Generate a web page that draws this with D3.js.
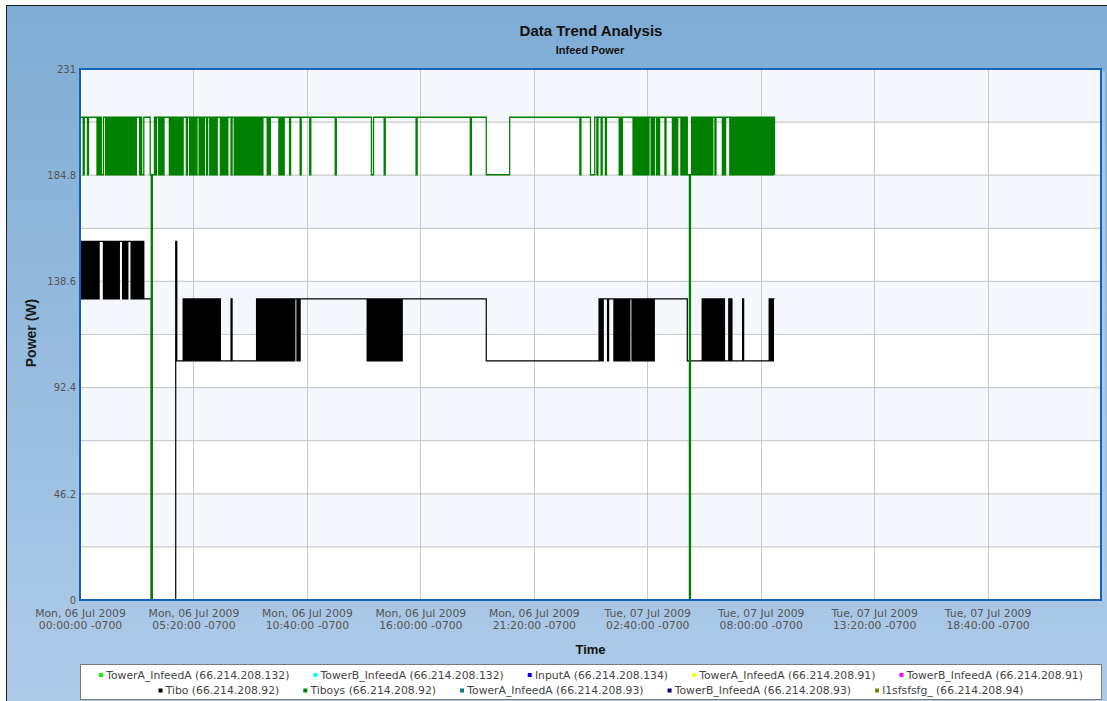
<!DOCTYPE html>
<html>
<head>
<meta charset="utf-8">
<script src="https://cdn.jsdelivr.net/npm/d3@7"></script>
<style>
  body { margin: 0; background: #ffffff; }
  svg { display: block; }
</style>
</head>
<body>
<svg id="chart" width="1107" height="701"></svg>
<script>
// ---- data -------------------------------------------------------------

// Readings are logged every SAMPLE_MINUTES from seriesStart; each entry is
// [sampleIndex, codes] and each code is one reading. A value holds until
// the next logged reading (step chart).
const SAMPLE_MINUTES = 3;
const seriesStart = "2009-07-06T00:00:00-07:00";
const rangeEnd = "2009-07-08T00:00:00-07:00";

// Tibo (66.214.208.92), watts per code
const tiboLevels = { a: 156, b: 131, c: 104, Z: 0 };
const tiboReadings = [
  [0, "ababababab" + "abababab" + "a"],
  [22, "babababababababa"],
  [40, "bababa"],
  [48, "babababababab"],
  [67, "Z"],
  [90, "ac"],
  [97, "bcbcbcbcbc" + "bcbcbcbcbc" + "bcbcbcbcbc" + "bcbcbc"],
  [142, "bc"],
  [166, "bcbcbcbcbc" + "bcbcbcbcbc" + "bcbcbcbcbc" + "bcbcbc" + "bbcbcb"],
  [270, "cbcbcbcbcb" + "cbcbcbcbcb" + "cbcbcbcbcb" + "cbcb"],
  [382, "c"],
  [488, "bcbcb"],
  [496, "cb"],
  [502, "cbcbcbcbcbcbcb"],
  [516, "cbbcb"],
  [521, "cbcbcbcbcb" + "cbcbcbcbcb"],
  [571, "c"],
  [585, "bcbcbcbcbc" + "bcbcbcbcbc" + "bc"],
  [610, "bcbc"],
  [623, "bc"],
  [648, "bcbcbb"]
];

// Tiboys (66.214.208.92), watts per code
const tiboysLevels = { H: 210, L: 185, Z: 0 };
const tiboysReadings = [
  [0, "HHHLHHHLH"],
  [16, "LHLHLLH"],
  [24, "LHLHLHLHLH" + "LHLHLHLHLH" + "LHLHLHLHLH"],
  [56, "LHLLH"],
  [66, "LZLLHLHHLHLHLH"],
  [84, "LHLHLHLHLHLHLH"],
  [100, "LHHLHLHLHLH"],
  [112, "LHLHLHHLHH"],
  [122, "LHLHLHLH"],
  [132, "LHLHLHLH"],
  [142, "LHHLH" + "LHLHLHLHLH" + "LHLHLHLHLH" + "LHLHLH" + "H"],
  [176, "LHLH"],
  [187, "LHLHLH"],
  [197, "LH"],
  [207, "LH"],
  [216, "LH"],
  [240, "LH"],
  [274, "LLH"],
  [286, "LH"],
  [316, "LH"],
  [367, "LH"],
  [382, "L"],
  [404, "H"],
  [470, "LH"],
  [480, "LLLLHHLHHHLHHHLH"],
  [507, "LHLH"],
  [520, "LHLHLHLHLHLHLHLH" + "HLHLH"],
  [542, "LHLH"],
  [550, "LH"],
  [557, "LHLHLH"],
  [565, "LHLHLHL" + "LZL" + "HLHLHLHLHL" + "HLHLHLHLHL" + "H" + "HLH"],
  [604, "LHLH"],
  [611, "LHLHLHLHLH" + "LHLHLHLHLH" + "LHLHLHLHLH" + "LHLHLHLHLH" + "LHL"]
];

// axis ticks
const xTickTimes = [
  "2009-07-06T00:00:00-07:00",
  "2009-07-06T05:20:00-07:00",
  "2009-07-06T10:40:00-07:00",
  "2009-07-06T16:00:00-07:00",
  "2009-07-06T21:20:00-07:00",
  "2009-07-07T02:40:00-07:00",
  "2009-07-07T08:00:00-07:00",
  "2009-07-07T13:20:00-07:00",
  "2009-07-07T18:40:00-07:00"
];
const yTicks = [0, 46.2, 92.4, 138.6, 184.8, 231];
const yMax = 231;
const yBandStep = 23.1;

// legend entries
const legendNames = [
  "TowerA_InfeedA (66.214.208.132)",
  "TowerB_InfeedA (66.214.208.132)",
  "InputA (66.214.208.134)",
  "TowerA_InfeedA (66.214.208.91)",
  "TowerB_InfeedA (66.214.208.91)",
  "Tibo (66.214.208.92)",
  "Tiboys (66.214.208.92)",
  "TowerA_InfeedA (66.214.208.93)",
  "TowerB_InfeedA (66.214.208.93)",
  "l1sfsfsfg_ (66.214.208.94)"
];
const legendColors = [
  "#00ff00", "#00ffff", "#0000ff", "#ffff00", "#ff00ff",
  "#000000", "#008000", "#008080", "#000080", "#808000"
];

// ---- layout -----------------------------------------------------------
const W = 1107, H = 701;
const plot = { left: 80, top: 69, right: 1101, bottom: 600 };
const TZ_OFFSET_MS = -7 * 3600 * 1000;
const smallFont = "'DejaVu Sans', Verdana, sans-serif";
const titleFont = "'Liberation Sans', Arial, sans-serif";

const svg = d3.select("#chart");
const defs = svg.append("defs");

const grad = defs.append("linearGradient")
  .attr("id", "bgGrad").attr("x1", 0).attr("y1", 0).attr("x2", 0).attr("y2", 1);
grad.append("stop").attr("offset", "0%").attr("stop-color", "#7eacd5");
grad.append("stop").attr("offset", "100%").attr("stop-color", "#aecbe8");

defs.append("clipPath").attr("id", "plotClip")
  .append("rect")
  .attr("x", plot.left).attr("y", plot.top - 1)
  .attr("width", plot.right - plot.left).attr("height", plot.bottom - plot.top + 2);

// panel background and frame
svg.append("rect")
  .attr("x", 6).attr("y", 5).attr("width", W - 6).attr("height", H - 5)
  .attr("fill", "url(#bgGrad)");
svg.append("path")
  .attr("d", `M6.5,${H} V5.5 H${W}`)
  .attr("fill", "none").attr("stroke", "#1a1a1a").attr("stroke-width", 1);

// scales
const t0 = new Date(seriesStart);
const x = d3.scaleUtc()
  .domain([t0, new Date(rangeEnd)])
  .range([plot.left, plot.right]);
const y = d3.scaleLinear()
  .domain([0, yMax])
  .range([plot.bottom, plot.top]);

// soft edge to the right of the plot frame
svg.append("rect")
  .attr("x", plot.right + 1).attr("y", plot.top + 2)
  .attr("width", 3).attr("height", plot.bottom - plot.top)
  .attr("fill", "#b4cfea").attr("opacity", 0.7);

// alternating bands
const bandEdges = d3.range(0, yMax + 1e-6, yBandStep).map(v => +v.toFixed(1));
const bands = d3.pairs(bandEdges);
svg.append("g").selectAll("rect").data(bands).join("rect")
  .attr("x", plot.left)
  .attr("width", plot.right - plot.left)
  .attr("y", d => y(d[1]))
  .attr("height", d => y(d[0]) - y(d[1]))
  .attr("fill", (d, i) => (i % 2 === 1 ? "#f4f8fd" : "#ffffff"));

// grid lines
const grid = svg.append("g").attr("fill", "none");
grid.selectAll("line.h").data(bandEdges.slice(1, -1)).join("line")
  .attr("class", "h")
  .attr("x1", plot.left).attr("x2", plot.right)
  .attr("y1", d => y(d)).attr("y2", d => y(d))
  .attr("stroke", "#cccccc").attr("stroke-width", 1.2);
const tickDates = xTickTimes.map(s => new Date(s));
grid.selectAll("line.v").data(tickDates.slice(1)).join("line")
  .attr("class", "v")
  .attr("x1", d => Math.round(x(d)) + 0.5).attr("x2", d => Math.round(x(d)) + 0.5)
  .attr("y1", plot.top).attr("y2", plot.bottom)
  .attr("stroke", "#c8c8c8").attr("stroke-width", 1);

// series
function expand(pieces, levels) {
  const pts = [];
  pieces.forEach(([start, codes]) => {
    [...codes].forEach((c, k) => {
      pts.push({
        t: new Date(t0.getTime() + (start + k) * SAMPLE_MINUTES * 60000),
        v: levels[c]
      });
    });
  });
  return pts;
}
const stepLine = d3.line()
  .x(d => x(d.t))
  .y(d => y(d.v))
  .curve(d3.curveStepAfter);

const seriesG = svg.append("g").attr("clip-path", "url(#plotClip)");
seriesG.append("path")
  .datum(expand(tiboReadings, tiboLevels))
  .attr("d", stepLine)
  .attr("fill", "none").attr("stroke", "#000000").attr("stroke-width", 1.2);
seriesG.append("path")
  .datum(expand(tiboysReadings, tiboysLevels))
  .attr("d", stepLine)
  .attr("fill", "none").attr("stroke", "#008000").attr("stroke-width", 1.3);

// plot border
svg.append("rect")
  .attr("x", plot.left).attr("y", plot.top)
  .attr("width", plot.right - plot.left).attr("height", plot.bottom - plot.top)
  .attr("fill", "none").attr("stroke", "#1462b4").attr("stroke-width", 2);

// axes
const fmtDay = d3.utcFormat("%a, %d %b %Y");
const fmtClock = d3.utcFormat("%H:%M:%S");
const gx = svg.append("g")
  .attr("transform", `translate(0,${plot.bottom})`)
  .call(d3.axisBottom(x).tickValues(tickDates).tickSize(0).tickFormat(() => ""));
gx.select(".domain").remove();
gx.attr("font-family", smallFont).attr("font-size", 10.8);
gx.selectAll(".tick text").each(function (d) {
  const local = new Date(d.getTime() + TZ_OFFSET_MS);
  const t = d3.select(this).attr("y", null).attr("dy", null).attr("fill", "#555555");
  t.append("tspan").attr("x", 0).attr("y", 17).text(fmtDay(local));
  t.append("tspan").attr("x", 0).attr("y", 28.7).text(fmtClock(local) + " -0700");
});

const gy = svg.append("g")
  .attr("transform", `translate(${plot.left},0)`)
  .call(d3.axisLeft(y).tickValues(yTicks).tickSize(0).tickPadding(4).tickFormat(d => String(d)));
gy.select(".domain").remove();
gy.attr("font-family", smallFont).attr("font-size", 10);
gy.selectAll(".tick text").attr("fill", "#555555");

// titles
svg.append("text")
  .attr("x", 591).attr("y", 36).attr("text-anchor", "middle")
  .attr("font-family", titleFont)
  .attr("font-weight", "bold").attr("font-size", 15).attr("fill", "#111111")
  .text("Data Trend Analysis");
svg.append("text")
  .attr("x", 590).attr("y", 54).attr("text-anchor", "middle")
  .attr("font-family", titleFont)
  .attr("font-weight", "bold").attr("font-size", 11).attr("fill", "#111111")
  .text("Infeed Power");
svg.append("text")
  .attr("x", (plot.left + plot.right) / 2).attr("y", 654).attr("text-anchor", "middle")
  .attr("font-family", titleFont)
  .attr("font-weight", "bold").attr("font-size", 13).attr("fill", "#111111")
  .text("Time");
svg.append("text")
  .attr("transform", "translate(36,333) rotate(-90)")
  .attr("text-anchor", "middle")
  .attr("font-family", titleFont)
  .attr("font-weight", "bold").attr("font-size", 14).attr("fill", "#1a1a1a")
  .text("Power (W)");

// legend
const legendBox = { x: 80.5, y: 664.5, w: 1021, h: 35 };
svg.append("rect")
  .attr("x", legendBox.x).attr("y", legendBox.y)
  .attr("width", legendBox.w).attr("height", legendBox.h)
  .attr("fill", "#ffffff").attr("stroke", "#7a7a7a").attr("stroke-width", 1);

const legendRows = [[0, 1, 2, 3, 4], [5, 6, 7, 8, 9]];
const rowY = [675, 690.5];
const centerX = legendBox.x + legendBox.w / 2;
legendRows.forEach((row, r) => {
  const g = svg.append("g")
    .attr("font-family", smallFont)
    .attr("font-size", 10.8);
  const items = row.map(i => {
    const marker = g.append("rect").attr("width", 4).attr("height", 4)
      .attr("y", rowY[r] - 2).attr("fill", legendColors[i]);
    const txt = g.append("text").attr("y", rowY[r] + 3.9)
      .attr("fill", "#444444").text(legendNames[i]);
    return { marker, txt, len: txt.node().getComputedTextLength() };
  });
  const markerGap = 7.2, itemGap = 24;
  const total = d3.sum(items, d => markerGap + d.len) + itemGap * (items.length - 1);
  let cx = centerX - total / 2;
  items.forEach(d => {
    d.marker.attr("x", cx);
    d.txt.attr("x", cx + markerGap);
    cx += markerGap + d.len + itemGap;
  });
});
</script>
</body>
</html>
